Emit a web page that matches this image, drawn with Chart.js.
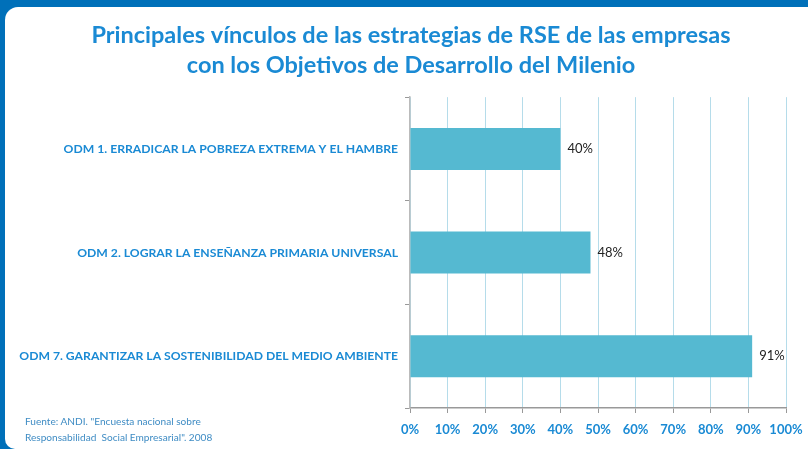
<!DOCTYPE html>
<html>
<head>
<meta charset="utf-8">
<script src="https://cdn.jsdelivr.net/npm/chart.js@4.4.0/dist/chart.umd.min.js"></script>
<style>
  html, body { margin: 0; padding: 0; background: #0070b9; width: 808px; height: 449px; overflow: hidden; }
  #frame { position: absolute; left: 5px; top: 7px; width: 803px; height: 442px; background: #fff; border-top-left-radius: 13px; border-bottom-left-radius: 10px; }
  #wrap { position: absolute; left: 0; top: 0; width: 808px; height: 449px; }
  #source { position: absolute; left: 25px; top: 413px; font: 10.1px Lato, sans-serif; color: #3f8cc4; line-height: 16px; }
</style>
</head>
<body>
<div id="frame"></div>
<div id="wrap"><canvas id="chart" width="808" height="449"></canvas></div>
<div id="source">Fuente: ANDI. "Encuesta nacional sobre<br>Responsabilidad&nbsp; Social Empresarial". 2008</div>
<script>
  const categories = [
    'ODM 1. ERRADICAR LA POBREZA EXTREMA Y EL HAMBRE',
    'ODM 2. LOGRAR LA ENSEÑANZA PRIMARIA UNIVERSAL',
    'ODM 7. GARANTIZAR LA SOSTENIBILIDAD DEL MEDIO AMBIENTE'
  ];
  const values = [40, 48, 91];
  const xTicks = [0, 10, 20, 30, 40, 50, 60, 70, 80, 90, 100];

  const blue = '#1a8ad4';

  // draws the "40%" labels at the end of each bar
  const barLabels = {
    id: 'barLabels',
    afterDatasetsDraw(chart) {
      const ctx = chart.ctx;
      const meta = chart.getDatasetMeta(0);
      ctx.save();
      ctx.font = '13px Lato, sans-serif';
      ctx.fillStyle = '#222';
      ctx.textBaseline = 'middle';
      ctx.textAlign = 'left';
      meta.data.forEach((bar, i) => {
        ctx.fillText(values[i] + '%', bar.x + 7, bar.y);
      });
      ctx.restore();
    }
  };

  // the title sits a bit right of the canvas centre in the original
  const titleShift = {
    id: 'titleShift',
    afterLayout(chart) {
      chart.titleBlock.left = 32;
      chart.titleBlock.right = 790;
    }
  };

  new Chart(document.getElementById('chart'), {
    type: 'bar',
    data: {
      labels: categories,
      datasets: [{
        data: values,
        backgroundColor: '#55b9d1',
        barPercentage: 1,
        categoryPercentage: 0.405
      }]
    },
    plugins: [barLabels, titleShift],
    options: {
      indexAxis: 'y',
      responsive: false,
      animation: false,
      layout: { padding: { left: 0, right: 22, top: 20, bottom: 4 } },
      plugins: {
        legend: { display: false },
        tooltip: { enabled: false },
        title: {
          display: true,
          text: ['Principales vínculos de las estrategias de RSE de las empresas',
                 'con los Objetivos de Desarrollo del Milenio'],
          color: blue,
          font: { family: 'Lato', size: 23.5, weight: 'bold', lineHeight: 1.28 },
          padding: { top: 0, bottom: 17 }
        }
      },
      scales: {
        x: {
          min: 0,
          max: 100,
          afterBuildTicks(scale) { scale.ticks = xTicks.map(v => ({ value: v })); },
          ticks: {
            callback: v => v + '%',
            color: blue,
            font: { family: 'Lato', size: 13, weight: 'bold' },
            padding: 9,
            maxRotation: 0
          },
          grid: { color: '#b5dcea', tickColor: '#999', tickLength: 5 },
          border: { color: '#999', width: 1.5 },
          afterFit(scale) {
            scale.height = 37;
            scale.paddingLeft = 0;
            scale.paddingRight = 0;
          }
        },
        y: {
          ticks: {
            color: blue,
            font: { family: 'Lato', size: 12.2, weight: 'bold' },
            padding: 7
          },
          grid: { drawOnChartArea: false, tickColor: '#999', tickLength: 5, offset: true },
          border: { color: '#bbb', width: 1.5 },
          afterFit(scale) { scale.width = 410; }
        }
      }
    }
  });
</script>
</body>
</html>
